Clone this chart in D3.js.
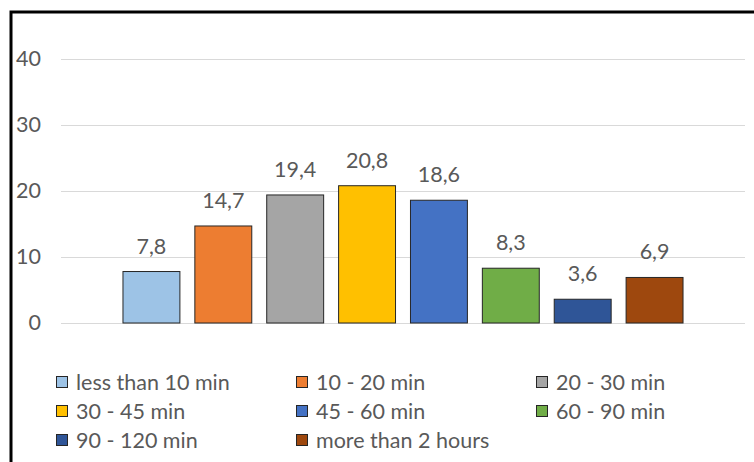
<!DOCTYPE html>
<html>
<head>
<meta charset="utf-8">
<script src="https://cdn.jsdelivr.net/npm/d3@7"></script>
<style>
  html, body { margin: 0; padding: 0; background: #fff; }
  svg { display: block; font-family: Lato, "Open Sans", sans-serif; }
</style>
</head>
<body>
<svg id="chart" width="754" height="462"></svg>
<script>
// Commute duration shares (%)
const categories = ["less than 10 min", "10 - 20 min", "20 - 30 min", "30 - 45 min",
                    "45 - 60 min", "60 - 90 min", "90 - 120 min", "more than 2 hours"];
const values = [7.8, 14.7, 19.4, 20.8, 18.6, 8.3, 3.6, 6.9];
const colors = ["#9DC3E6", "#ED7D31", "#A5A5A5", "#FFC000",
                "#4472C4", "#70AD47", "#2F5597", "#9E480E"];
const yTicks = [0, 10, 20, 30, 40];

const svg = d3.select("#chart");
const textColor = "#595959";
const fontSize = "21.5px";

// Outer frame (open on the right and bottom edges of the canvas)
svg.append("rect")
  .attr("x", 11).attr("y", 12)
  .attr("width", 800).attr("height", 500)
  .attr("fill", "none").attr("stroke", "#000").attr("stroke-width", 3);

const plot = { left: 61, right: 745, top: 59, bottom: 323 };

const y = d3.scaleLinear().domain([0, 40]).range([plot.bottom, plot.top]);
const x = d3.scaleBand()
  .domain(categories)
  .range([115.5, 690.5])
  .paddingInner(0.208)
  .paddingOuter(0.104);

// Gridlines
svg.append("g")
  .selectAll("line")
  .data(yTicks)
  .join("line")
  .attr("x1", plot.left).attr("x2", plot.right)
  .attr("y1", d => Math.round(y(d)) + 0.5).attr("y2", d => Math.round(y(d)) + 0.5)
  .attr("stroke", "#D9D9D9").attr("stroke-width", 1);

// Y axis labels
const yAxis = d3.axisLeft(y).tickValues(yTicks).tickSize(0).tickPadding(0);
const gy = svg.append("g").attr("transform", "translate(41,0)").call(yAxis);
gy.select(".domain").remove();
gy.selectAll("text")
  .attr("fill", textColor)
  .style("font-size", fontSize)
  .style("font-family", "Lato, 'Open Sans', sans-serif");

// Bars
svg.append("g")
  .selectAll("rect")
  .data(values)
  .join("rect")
  .attr("x", (d, i) => x(categories[i]))
  .attr("y", d => y(d))
  .attr("width", x.bandwidth())
  .attr("height", d => y(0) - y(d))
  .attr("fill", (d, i) => colors[i])
  .attr("stroke", "#262626").attr("stroke-width", 1);

// Value labels
const fmt = v => d3.format(".1f")(v).replace(".", ",");
svg.append("g")
  .selectAll("text")
  .data(values)
  .join("text")
  .attr("x", (d, i) => x(categories[i]) + x.bandwidth() / 2)
  .attr("y", d => y(d) - 18)
  .attr("text-anchor", "middle")
  .attr("fill", textColor)
  .style("font-size", fontSize)
  .text(d => fmt(d));

// Legend: three columns, three rows
const colX = [56, 296, 536];
const rowY = [382, 411, 440];
const legend = svg.append("g")
  .selectAll("g")
  .data(categories)
  .join("g")
  .attr("transform", (d, i) => `translate(${colX[i % 3]},${rowY[Math.floor(i / 3)]})`);

legend.append("rect")
  .attr("x", 0.5).attr("y", -5.5)
  .attr("width", 11).attr("height", 11)
  .attr("fill", (d, i) => colors[i])
  .attr("stroke", "#262626").attr("stroke-width", 1);

legend.append("text")
  .attr("x", 20).attr("y", 0)
  .attr("dy", "0.35em")
  .attr("fill", textColor)
  .style("font-size", fontSize)
  .text(d => d);
</script>
</body>
</html>
